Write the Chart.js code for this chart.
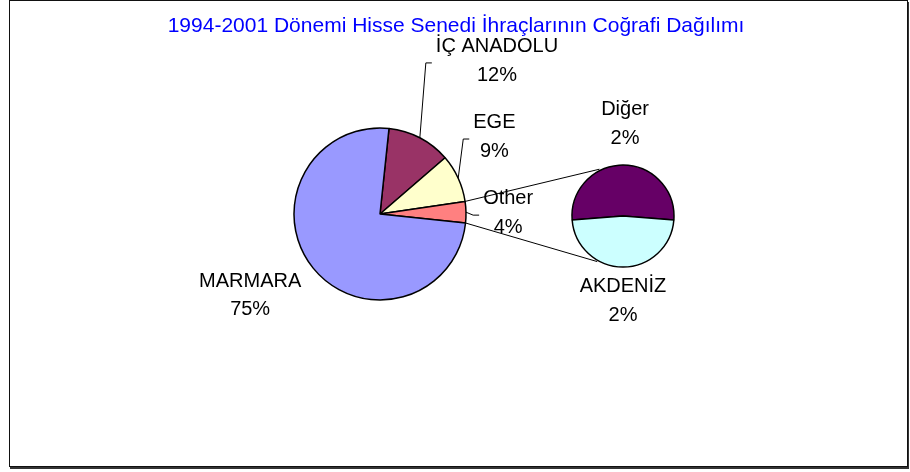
<!DOCTYPE html>
<html>
<head>
<meta charset="utf-8">
<script src="https://cdn.jsdelivr.net/npm/chart.js@4.4.1/dist/chart.umd.min.js"></script>
<style>
  html, body { margin: 0; padding: 0; background: #fff; }
  #wrap { position: relative; width: 910px; height: 472px; overflow: hidden; }
  #frame {
    position: absolute; left: 9px; top: 0; width: 897px; height: 465px;
    border: 1px solid #111; box-shadow: 1px 2px 0 #333;
  }
  canvas { position: absolute; left: 0; top: 0; }
</style>
</head>
<body>
<div id="wrap">
  <div id="frame"></div>
  <canvas id="mainPie" width="910" height="472"></canvas>
  <canvas id="subPie" width="910" height="472"></canvas>
</div>
<script>
const TITLE = '1994-2001 Dönemi Hisse Senedi İhraçlarının Coğrafi Dağılımı';

// main pie (clockwise from the top, after rotation)
const mainLabels = ['İÇ ANADOLU', 'EGE', 'Other', 'MARMARA'];
const mainValues = [12, 9, 4, 75];
const mainColors = ['#993366', '#FFFFCC', '#FF8080', '#9999FF'];

// secondary pie = breakdown of "Other"
const subLabels = ['Diğer', 'AKDENİZ'];
const subValues = [2.1, 1.9];
const subColors = ['#660066', '#CCFFFF'];

const W = 910, H = 472;
const MAIN = { cx: 380, cy: 214, r: 86 };
const SUB = { cx: 623, cy: 216, r: 51 };

// label centres, in radius units from the pie centre; leader = draw callout line
const mainLabelPos = [[1.36, -1.78, true], [1.33, -0.895, true], [1.49, -0.01, true], [-1.51, 0.95, false]];
const subLabelPos = [[0.04, -1.80, false], [0.0, 1.67, false]];

const FONT = '20px "Liberation Sans", Arial, sans-serif';
const LINE_H = 28.5;

const total = mainValues.reduce((a, b) => a + b, 0);
const pct = v => Math.round(v / total * 100) + '%';

function padFor(p) {
  return { left: p.cx - p.r, right: W - (p.cx + p.r), top: p.cy - p.r, bottom: H - (p.cy + p.r) };
}

function pieConfig(labels, values, colors, place, rotation) {
  return {
    type: 'pie',
    data: {
      labels: labels,
      datasets: [{
        data: values,
        backgroundColor: colors,
        borderColor: '#000',
        borderWidth: 1.5
      }]
    },
    options: {
      responsive: false,
      animation: false,
      events: [],
      rotation: rotation,
      radius: place.r,
      layout: { padding: padFor(place) },
      plugins: { legend: { display: false }, tooltip: { enabled: false } }
    }
  };
}

const mainChart = new Chart(document.getElementById('mainPie'),
  pieConfig(mainLabels, mainValues, mainColors, MAIN, 6));

const subShare = subValues[0] / subValues.reduce((a, b) => a + b, 0);

function drawLabels(ctx, chart, labels, values, pos) {
  const arcs = chart.getDatasetMeta(0).data;
  ctx.font = FONT;
  ctx.fillStyle = '#000';
  ctx.textAlign = 'center';
  ctx.textBaseline = 'middle';
  arcs.forEach((arc, i) => {
    const x = arc.x + pos[i][0] * arc.outerRadius;
    const y = arc.y + pos[i][1] * arc.outerRadius;
    const lines = [labels[i], pct(values[i])];
    ctx.fillText(lines[0], x, y - LINE_H / 2);
    ctx.fillText(lines[1], x, y + LINE_H / 2);
    if (pos[i][2]) {
      const w = Math.max(...lines.map(t => ctx.measureText(t).width));
      const left = x - w / 2;
      const mid = (arc.startAngle + arc.endAngle) / 2;
      ctx.beginPath();
      ctx.moveTo(arc.x + arc.outerRadius * Math.cos(mid), arc.y + arc.outerRadius * Math.sin(mid));
      ctx.lineTo(left - 10, y + 2);
      ctx.lineTo(left - 4, y + 2);
      ctx.stroke();
    }
  });
}

// tangent from (px,py) towards the circle, stopped a little short like Excel does
function tangent(px, py, cx, cy, r, side) {
  const dx = cx - px, dy = cy - py;
  const d = Math.hypot(dx, dy);
  const L = Math.sqrt(d * d - r * r) * 0.92;
  const t = Math.atan2(dy, dx) + side * Math.asin(r / d);
  return [px + L * Math.cos(t), py + L * Math.sin(t)];
}

const overlay = {
  id: 'overlay',
  afterDraw(chart) {
    const ctx = chart.ctx;
    ctx.save();
    // title
    ctx.font = '21px "Liberation Sans", Arial, sans-serif';
    ctx.fillStyle = '#0000FF';
    ctx.textAlign = 'center';
    ctx.textBaseline = 'middle';
    ctx.fillText(TITLE, 456, 26);

    // connector lines from "Other" to the secondary pie
    const other = mainChart.getDatasetMeta(0).data[2];
    const sub = chart.getDatasetMeta(0).data[0];
    ctx.strokeStyle = '#000';
    ctx.lineWidth = 1;
    [[other.startAngle, -1], [other.endAngle, 1]].forEach(([a, side]) => {
      const px = other.x + other.outerRadius * Math.cos(a);
      const py = other.y + other.outerRadius * Math.sin(a);
      const [tx, ty] = tangent(px, py, sub.x, sub.y, sub.outerRadius, side);
      ctx.beginPath();
      ctx.moveTo(px, py);
      ctx.lineTo(tx, ty);
      ctx.stroke();
    });

    drawLabels(ctx, mainChart, mainLabels, mainValues, mainLabelPos);
    drawLabels(ctx, chart, subLabels, subValues, subLabelPos);
    ctx.restore();
  }
};

const subCfg = pieConfig(subLabels, subValues, subColors, SUB, -subShare * 180);
subCfg.plugins = [overlay];
const subChart = new Chart(document.getElementById('subPie'), subCfg);
</script>
</body>
</html>
